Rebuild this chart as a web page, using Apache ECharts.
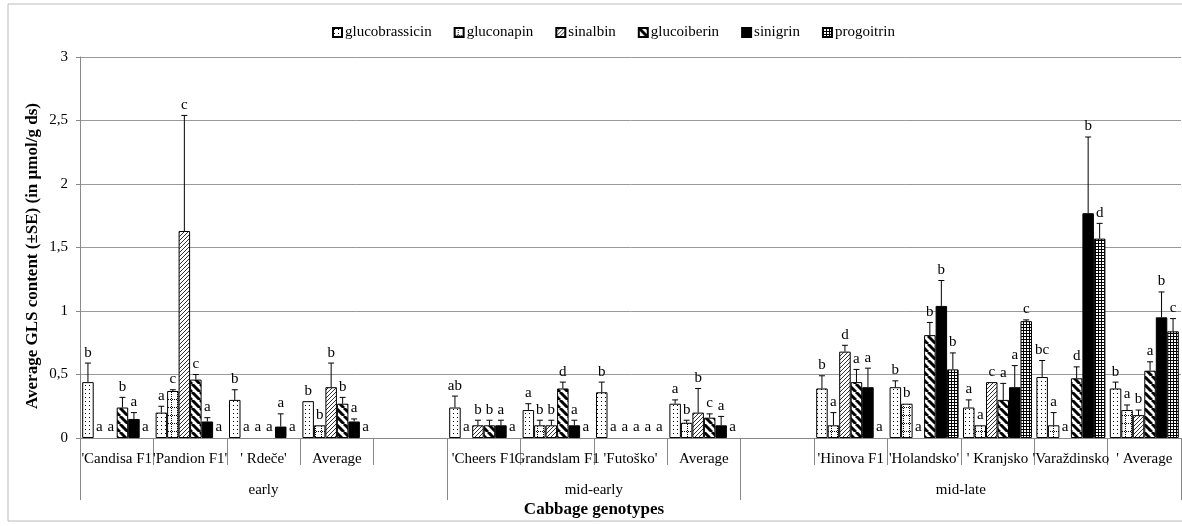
<!DOCTYPE html>
<html>
<head>
<meta charset="utf-8">
<script src="https://cdn.jsdelivr.net/npm/echarts@6/dist/echarts.min.js"></script>
<style>
  html, body { margin: 0; padding: 0; background: #fff; }
  #chart { width: 1182px; height: 526px; }
</style>
</head>
<body>
<div id="chart"></div>
<script>
// categories on the first x level (blank slots separate the groups)
var categories = ["'Candisa F1", "'Pandion F1'", "' Rdeče'", "Average", "",
    "'Cheers F1", "Grandslam F1", "'Futoško'", "Average", "",
    "'Hinova F1", "'Holandsko'", "' Kranjsko", "'Varaždinsko", "' Average"];
var groupNames = ['early', 'mid-early', 'mid-late'];
var groupCenters = [2.5, 7, 12];
var groupBounds = [0, 5, 9, 15];
var yTicks = [0, 0.5, 1, 1.5, 2, 2.5, 3];

var compounds = ['glucobrassicin', 'gluconapin', 'sinalbin', 'glucoiberin', 'sinigrin', 'progoitrin'];

// mean values
var glucobrassicin = [0.44, 0.20, 0.30, 0.29, null, 0.24, 0.22, 0.36, 0.27, null, 0.39, 0.40, 0.24, 0.48, 0.39];
var gluconapin     = [0, 0.37, 0, 0.10, null, 0, 0.10, 0, 0.12, null, 0.10, 0.27, 0.10, 0.10, 0.22];
var sinalbin       = [0, 1.63, 0, 0.40, null, 0.10, 0.10, 0, 0.20, null, 0.68, 0, 0.44, 0, 0.18];
var glucoiberin    = [0.24, 0.46, 0, 0.27, null, 0.10, 0.39, 0, 0.16, null, 0.44, 0.81, 0.30, 0.47, 0.53];
var sinigrin       = [0.15, 0.13, 0.09, 0.13, null, 0.10, 0.10, 0, 0.10, null, 0.40, 1.04, 0.40, 1.77, 0.95];
var progoitrin     = [0, 0, 0, 0, null, 0, 0, 0, 0, null, 0, 0.54, 0.92, 1.57, 0.84];

// standard errors
var seGlucobrassicin = [0.15, 0.05, 0.08, 0, null, 0.09, 0.05, 0.08, 0.03, null, 0.10, 0.05, 0.06, 0.13, 0.05];
var seGluconapin     = [0, 0.01, 0, 0, null, 0, 0.04, 0, 0.02, null, 0.10, 0, 0, 0.10, 0.04];
var seSinalbin       = [0, 0.91, 0, 0.19, null, 0.04, 0.04, 0, 0.19, null, 0.05, 0, 0, 0, 0.04];
var seGlucoiberin    = [0.08, 0.04, 0, 0.05, null, 0.04, 0.05, 0, 0.03, null, 0.10, 0.10, 0.13, 0.09, 0.07];
var seSinigrin       = [0.05, 0.03, 0.10, 0.02, null, 0.04, 0.04, 0, 0.07, null, 0.15, 0.20, 0.17, 0.60, 0.20];
var seProgoitrin     = [0, 0, 0, 0, null, 0, 0, 0, 0, null, 0, 0.13, 0.01, 0.12, 0.10];

// significance letters
var lbGlucobrassicin = ['b', 'a', 'b', 'b', '', 'ab', 'a', 'b', 'a', '', 'b', 'b', 'a', 'bc', 'b'];
var lbGluconapin     = ['a', 'c', 'a', 'b', '', 'a', 'b', 'a', 'b', '', 'a', 'b', 'a', 'a', 'a'];
var lbSinalbin       = ['a', 'c', 'a', 'b', '', 'b', 'b', 'a', 'b', '', 'd', 'a', 'c', 'a', 'b'];
var lbGlucoiberin    = ['b', 'c', 'a', 'b', '', 'b', 'd', 'a', 'c', '', 'a', 'b', 'a', 'd', 'a'];
var lbSinigrin       = ['a', 'a', 'a', 'a', '', 'a', 'a', 'a', 'a', '', 'a', 'b', 'a', 'b', 'b'];
var lbProgoitrin     = ['a', 'a', 'a', 'a', '', 'a', 'a', 'a', 'a', '', 'a', 'b', 'c', 'd', 'c'];

var means = [glucobrassicin, gluconapin, sinalbin, glucoiberin, sinigrin, progoitrin];
var errors = [seGlucobrassicin, seGluconapin, seSinalbin, seGlucoiberin, seSinigrin, seProgoitrin];
var letters = [lbGlucobrassicin, lbGluconapin, lbSinalbin, lbGlucoiberin, lbSinigrin, lbProgoitrin];

var SERIF = '"Liberation Serif", "Times New Roman", serif';
var CAT_GAP = 0.06;

function makePattern(w, h, draw) {
    var c = document.createElement('canvas');
    c.width = w;
    c.height = h;
    var ctx = c.getContext('2d');
    ctx.fillStyle = '#fff';
    ctx.fillRect(0, 0, w, h);
    draw(ctx, w, h);
    return { image: c, repeat: 'repeat' };
}

var fills = [
    // dotted
    makePattern(4, 4, function (ctx) {
        ctx.fillStyle = '#000';
        ctx.fillRect(1, 1, 1, 1);
    }),
    // dotted grid
    makePattern(6, 8, function (ctx) {
        ctx.fillStyle = '#000';
        for (var i = 0; i < 8; i += 2) ctx.fillRect(3, i, 1, 1);
        for (var j = 0; j < 6; j += 2) ctx.fillRect(j, 7, 1, 1);
    }),
    // thin diagonal /
    makePattern(4, 4, function (ctx) {
        ctx.fillStyle = '#333';
        ctx.fillRect(3, 0, 1, 1);
        ctx.fillRect(2, 1, 1, 1);
        ctx.fillRect(1, 2, 1, 1);
        ctx.fillRect(0, 3, 1, 1);
    }),
    // wide diagonal \
    makePattern(8, 8, function (ctx) {
        ctx.strokeStyle = '#000';
        ctx.lineWidth = 3;
        [-8, 0, 8].forEach(function (o) {
            ctx.beginPath();
            ctx.moveTo(o, 0);
            ctx.lineTo(o + 8, 8);
            ctx.stroke();
        });
    }),
    '#000',
    // grid
    makePattern(3, 3, function (ctx) {
        ctx.fillStyle = '#000';
        ctx.fillRect(0, 0, 3, 1);
        ctx.fillRect(0, 0, 1, 3);
    })
];

var series = compounds.map(function (name, s) {
    return {
        name: name,
        type: 'bar',
        barGap: '0%',
        barCategoryGap: (CAT_GAP * 100) + '%',
        itemStyle: { color: fills[s], borderColor: '#000', borderWidth: 1 },
        emphasis: { disabled: true },
        data: means[s].map(function (v) { return v === 0 ? null : v; })
    };
});

// error bars and letters
var errData = [];
var errLetters = [];
means.forEach(function (arr, s) {
    arr.forEach(function (v, i) {
        if (v === null) return;
        errData.push([i, v, errors[s][i], s]);
        errLetters.push(letters[s][i]);
    });
});

function renderErr(params, api) {
    var cat = api.value(0);
    var v = api.value(1);
    var se = api.value(2);
    var s = api.value(3);
    var band = api.size([1, 0])[0];
    var bw = band * (1 - CAT_GAP) / compounds.length;
    var x = api.coord([cat, 0])[0] - band * (1 - CAT_GAP) / 2 + (s + 0.5) * bw;
    var yTop = api.coord([cat, v])[1];
    var yErr = api.coord([cat, v + se])[1];
    var children = [];
    if (se > 0) {
        children.push({
            type: 'line',
            shape: { x1: x, y1: yTop, x2: x, y2: yErr },
            style: { stroke: '#000', lineWidth: 1 }
        });
        children.push({
            type: 'line',
            shape: { x1: x - 3, y1: yErr, x2: x + 3, y2: yErr },
            style: { stroke: '#000', lineWidth: 1 }
        });
    }
    children.push({
        type: 'text',
        x: x,
        y: yErr - 3,
        style: {
            text: errLetters[params.dataIndex],
            align: 'center',
            verticalAlign: 'bottom',
            font: '15px ' + SERIF,
            fill: '#000'
        }
    });
    return { type: 'group', children: children };
}

series.push({
    type: 'custom',
    name: 'err',
    xAxisIndex: 0,
    renderItem: renderErr,
    encode: { x: 0, y: 1 },
    z: 5,
    silent: true,
    data: errData
});

var option = {
    animation: false,
    backgroundColor: '#fff',
    textStyle: { fontFamily: SERIF },
    graphic: [{
        type: 'rect',
        shape: { x: 8, y: 4, width: 1190, height: 517 },
        style: { fill: 'none', stroke: '#bbb', lineWidth: 1 },
        silent: true
    }, {
        type: 'text',
        x: 594,
        y: 510,
        style: {
            text: 'Cabbage genotypes',
            align: 'center',
            verticalAlign: 'middle',
            font: 'bold 17px ' + SERIF,
            fill: '#000'
        }
    }, {
        type: 'text',
        x: 33,
        y: 256,
        rotation: Math.PI / 2,
        style: {
            text: 'Average GLS content (\u00b1SE) (in \u00b5mol/g ds)',
            align: 'center',
            verticalAlign: 'middle',
            font: 'bold 17px ' + SERIF,
            fill: '#000'
        }
    }],
    legend: {
        data: compounds,
        top: 20,
        left: 327,
        icon: 'rect',
        itemWidth: 9,
        itemHeight: 9,
        itemGap: 22,
        textStyle: { fontFamily: SERIF, fontSize: 15, color: '#000', padding: [0, 0, 0, -2] }
    },
    grid: { left: 80, right: 1, top: 57, bottom: 88 },
    xAxis: [{
        type: 'category',
        data: categories,
        axisLine: { lineStyle: { color: '#888' } },
        axisTick: { show: true, interval: 0, length: 27, lineStyle: { color: '#888' } },
        axisLabel: { interval: 0, margin: 14, fontFamily: SERIF, fontSize: 15, color: '#000' }
    }, {
        type: 'value',
        min: 0,
        max: 15,
        position: 'bottom',
        axisLine: { show: false },
        splitLine: { show: false },
        axisTick: { show: true, customValues: groupBounds, length: 62, lineStyle: { color: '#888' } },
        axisLabel: {
            customValues: groupCenters,
            margin: 45,
            fontFamily: SERIF,
            fontSize: 15,
            color: '#000',
            formatter: function (v) {
                var k = groupCenters.indexOf(v);
                return k >= 0 ? groupNames[k] : '';
            }
        }
    }],
    yAxis: {
        type: 'value',
        min: yTicks[0],
        max: yTicks[yTicks.length - 1],
        interval: 0.5,
        axisLine: { show: true, lineStyle: { color: '#888' } },
        axisTick: { show: true, length: 4, lineStyle: { color: '#888' } },
        splitLine: { lineStyle: { color: '#999' } },
        axisLabel: {
            margin: 12,
            fontFamily: SERIF,
            fontSize: 15,
            color: '#000',
            formatter: function (v) { return String(v).replace('.', ','); }
        }
    },
    series: series
};

var chart = echarts.init(document.getElementById('chart'));
chart.setOption(option);
</script>
</body>
</html>
